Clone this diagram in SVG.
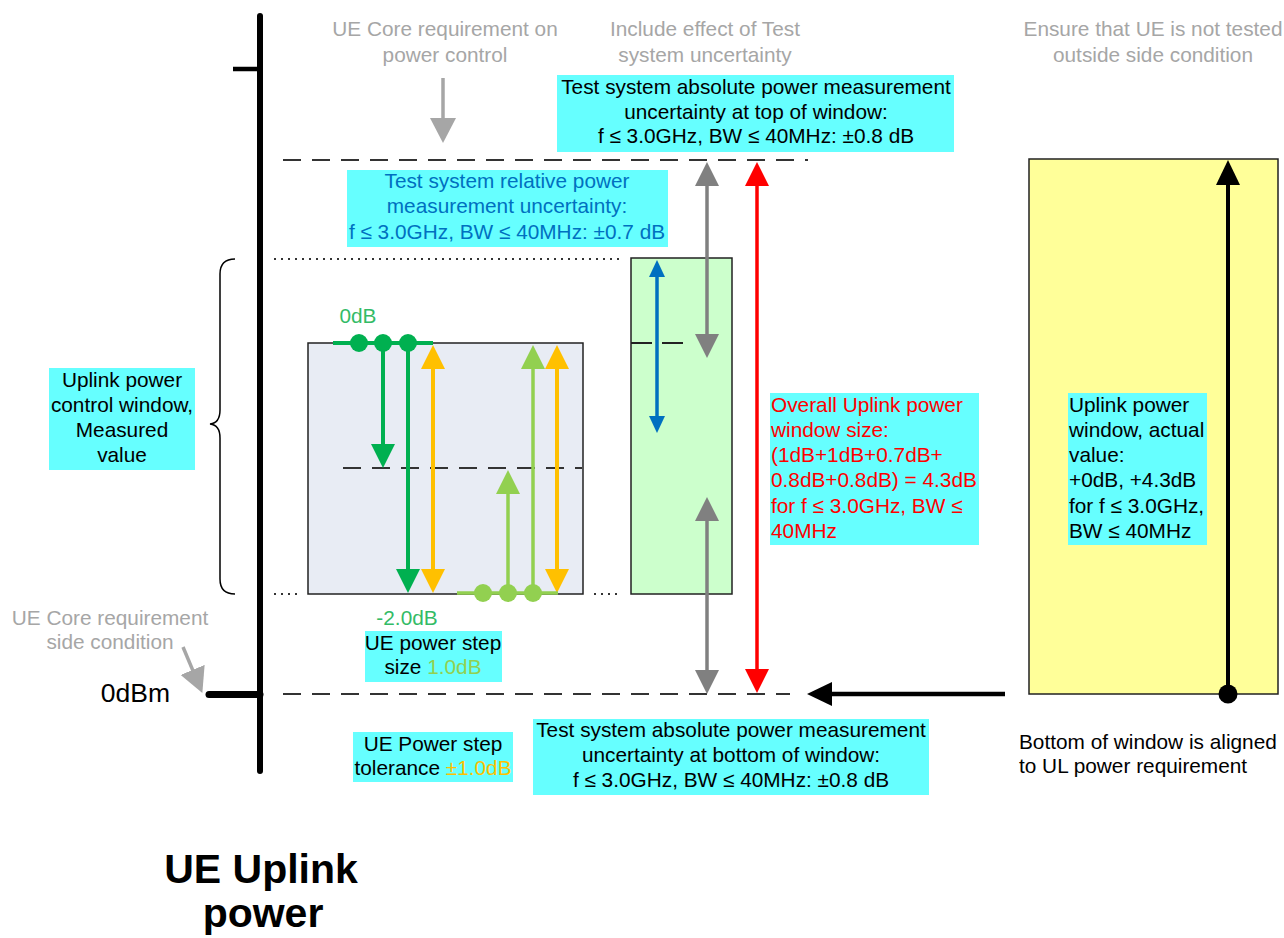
<svg xmlns="http://www.w3.org/2000/svg" width="1284" height="938" viewBox="0 0 1284 938">
<style>
.t{font-family:"Liberation Sans",Arial,sans-serif;font-size:20.8px;fill:#000}
.c{text-anchor:middle}
.g{fill:#A6A6A6}
.cy{fill:#66FFFF}
.dash{stroke:#333;stroke-width:2;stroke-dasharray:18 11;fill:none}
.dot{stroke:#333;stroke-width:2;stroke-dasharray:2 5;fill:none}
.box{stroke:#222;stroke-width:1.5}
</style>
<defs>
<marker id="mGray" markerUnits="userSpaceOnUse" markerWidth="24" markerHeight="24" refX="4" refY="12" orient="auto-start-reverse"><path d="M0,0 L24,12 L0,24 z" fill="#808080"/></marker>
<marker id="mLtGray" markerUnits="userSpaceOnUse" markerWidth="25" markerHeight="26" refX="4" refY="13" orient="auto-start-reverse"><path d="M0,0 L25,13 L0,26 z" fill="#A6A6A6"/></marker>
<marker id="mRed" markerUnits="userSpaceOnUse" markerWidth="24" markerHeight="24" refX="4" refY="12" orient="auto-start-reverse"><path d="M0,0 L24,12 L0,24 z" fill="#FF0000"/></marker>
<marker id="mDG" markerUnits="userSpaceOnUse" markerWidth="24" markerHeight="24" refX="4" refY="12" orient="auto-start-reverse"><path d="M0,0 L24,12 L0,24 z" fill="#00B050"/></marker>
<marker id="mLG" markerUnits="userSpaceOnUse" markerWidth="24" markerHeight="24" refX="4" refY="12" orient="auto-start-reverse"><path d="M0,0 L24,12 L0,24 z" fill="#92D050"/></marker>
<marker id="mY" markerUnits="userSpaceOnUse" markerWidth="24" markerHeight="24" refX="4" refY="12" orient="auto-start-reverse"><path d="M0,0 L24,12 L0,24 z" fill="#FFC000"/></marker>
<marker id="mBlue" markerUnits="userSpaceOnUse" markerWidth="17" markerHeight="16" refX="3" refY="8" orient="auto-start-reverse"><path d="M0,0 L17,8 L0,16 z" fill="#0070C0"/></marker>
<marker id="mBlk" markerUnits="userSpaceOnUse" markerWidth="25" markerHeight="24" refX="4" refY="12" orient="auto-start-reverse"><path d="M0,0 L25,12 L0,24 z" fill="#000"/></marker>
</defs>
<rect width="1284" height="938" fill="#fff"/>

<g id="axis">
<line x1="260" y1="16" x2="260" y2="771" stroke="#000" stroke-width="6" stroke-linecap="round"/>
<line x1="233" y1="69" x2="260" y2="69" stroke="#000" stroke-width="4.5"/>
<line x1="209" y1="694.5" x2="260" y2="694.5" stroke="#000" stroke-width="7" stroke-linecap="round"/>
<text class="t" x="170" y="702" text-anchor="end" style="font-size:26.5px">0dBm</text>
</g>

<g id="reference-lines">
<line class="dash" x1="283" y1="160" x2="808" y2="160"/>
<line class="dash" x1="283" y1="694" x2="790" y2="694"/>
<line class="dot" x1="274" y1="259" x2="620" y2="259"/>
<line class="dot" x1="274" y1="594" x2="300" y2="594"/>
<line class="dot" x1="594" y1="594" x2="620" y2="594"/>
</g>

<g id="step-window">
<rect class="box" x="308" y="343" width="275" height="251" fill="#E8ECF4"/>
<line class="dash" x1="343" y1="468" x2="582" y2="468"/>
</g>

<g id="relative-window">
<rect class="box" x="631" y="258" width="101" height="336" fill="#CCFFCC"/>
<line x1="631" y1="343" x2="683" y2="343" stroke="#222" stroke-width="2" stroke-dasharray="21 10"/>
</g>

<g id="actual-window">
<rect class="box" x="1029" y="159" width="249" height="535" fill="#FFFF99"/>
</g>

<g id="brace">
<path d="M235,259 Q220,259 220,274 L220,410 Q220,423 210,424 Q220,425 220,438 L220,579 Q220,594 235,594" fill="none" stroke="#000" stroke-width="1.5"/>
</g>

<g id="connectors">
<line x1="443" y1="78" x2="443" y2="122" stroke="#A6A6A6" stroke-width="3.5" marker-end="url(#mLtGray)"/>
<line x1="183" y1="647" x2="194.2" y2="673.6" stroke="#A6A6A6" stroke-width="3.5" marker-end="url(#mLtGray)"/>
<line x1="333" y1="343" x2="433" y2="343" stroke="#00B050" stroke-width="4"/>
<line x1="383" y1="343" x2="383" y2="448" stroke="#00B050" stroke-width="4" marker-end="url(#mDG)"/>
<line x1="408" y1="343" x2="408" y2="573" stroke="#00B050" stroke-width="4" marker-end="url(#mDG)"/>
<line x1="433" y1="365" x2="433" y2="573" stroke="#FFC000" stroke-width="4" marker-start="url(#mY)" marker-end="url(#mY)"/>
<line x1="557" y1="365" x2="557" y2="573" stroke="#FFC000" stroke-width="4" marker-start="url(#mY)" marker-end="url(#mY)"/>
<line x1="457" y1="593" x2="558" y2="593" stroke="#92D050" stroke-width="3.5"/>
<line x1="508" y1="593" x2="508" y2="490" stroke="#92D050" stroke-width="3.5" marker-end="url(#mLG)"/>
<line x1="533" y1="593" x2="533" y2="365" stroke="#92D050" stroke-width="3.5" marker-end="url(#mLG)"/>
<line x1="657" y1="274" x2="657" y2="419" stroke="#0070C0" stroke-width="3.5" marker-start="url(#mBlue)" marker-end="url(#mBlue)"/>
<line x1="707" y1="182" x2="707" y2="338" stroke="#808080" stroke-width="3.5" marker-start="url(#mGray)" marker-end="url(#mGray)"/>
<line x1="707" y1="517" x2="707" y2="674" stroke="#808080" stroke-width="3.5" marker-start="url(#mGray)" marker-end="url(#mGray)"/>
<line x1="757" y1="182" x2="757" y2="673" stroke="#FF0000" stroke-width="3.5" marker-start="url(#mRed)" marker-end="url(#mRed)"/>
<line x1="1005" y1="694" x2="828" y2="694" stroke="#000" stroke-width="4.5" marker-end="url(#mBlk)"/>
<line x1="1228" y1="694" x2="1228" y2="181" stroke="#000" stroke-width="4" marker-end="url(#mBlk)"/>
<g fill="#00B050"><circle cx="359" cy="343" r="9"/><circle cx="383" cy="343" r="9"/><circle cx="408" cy="343" r="9"/></g>
<g fill="#92D050"><circle cx="483" cy="593" r="9"/><circle cx="508" cy="593" r="9"/><circle cx="533" cy="593" r="9"/></g>
<circle cx="1228" cy="694" r="9.5" fill="#000"/>
</g>

<g id="label-core-power-control">
<text class="t c g" x="445" y="36">UE Core requirement on</text>
<text class="t c g" x="445" y="62">power control</text>
</g>
<g id="label-include-effect">
<text class="t c g" x="705" y="36">Include effect of Test</text>
<text class="t c g" x="705" y="62">system uncertainty</text>
</g>
<g id="label-ensure">
<text class="t c g" x="1153" y="36">Ensure that UE is not tested</text>
<text class="t c g" x="1153" y="62">outside side condition</text>
</g>
<g id="label-side-condition">
<text class="t c g" x="110" y="625">UE Core requirement</text>
<text class="t c g" x="110" y="649">side condition</text>
</g>

<g id="box-abs-top">
<rect class="cy" x="557" y="75" width="397" height="77"/>
<text class="t c" x="756" y="94">Test system absolute power measurement</text>
<text class="t c" x="756" y="118.5">uncertainty at top of window:</text>
<text class="t c" x="756" y="143">f ≤ 3.0GHz, BW ≤ 40MHz: ±0.8 dB</text>
</g>

<g id="box-relative">
<rect class="cy" x="347" y="170" width="321" height="77"/>
<text class="t c" x="507" y="188" style="fill:#0070C0">Test system relative power</text>
<text class="t c" x="507" y="213" style="fill:#0070C0">measurement uncertainty:</text>
<text class="t c" x="507" y="239" style="fill:#0070C0">f ≤ 3.0GHz, BW ≤ 40MHz: ±0.7 dB</text>
</g>

<g id="box-measured">
<rect class="cy" x="49" y="368" width="146" height="102"/>
<text class="t c" x="122" y="387">Uplink power</text>
<text class="t c" x="122" y="412">control window,</text>
<text class="t c" x="122" y="437">Measured</text>
<text class="t c" x="122" y="462">value</text>
</g>

<g id="label-0dB">
<text class="t c" x="358" y="323" style="fill:#33BB66">0dB</text>
</g>
<g id="label-minus2dB">
<text class="t c" x="407" y="625" style="fill:#33BB66">-2.0dB</text>
</g>

<g id="box-step-size">
<rect class="cy" x="365" y="631" width="137" height="51"/>
<text class="t c" x="433" y="650">UE power step</text>
<text class="t c" x="433" y="674">size <tspan style="fill:#92D050">1.0dB</tspan></text>
</g>

<g id="box-step-tolerance">
<rect class="cy" x="353" y="732" width="160" height="50"/>
<text class="t c" x="433" y="751">UE Power step</text>
<text class="t c" x="433" y="775">tolerance <tspan style="fill:#FFC000">±1.0dB</tspan></text>
</g>

<g id="box-abs-bottom">
<rect class="cy" x="533" y="719" width="396" height="76"/>
<text class="t c" x="731" y="737">Test system absolute power measurement</text>
<text class="t c" x="731" y="762">uncertainty at bottom of window:</text>
<text class="t c" x="731" y="787">f ≤ 3.0GHz, BW ≤ 40MHz: ±0.8 dB</text>
</g>

<g id="box-overall">
<rect class="cy" x="770" y="393" width="209" height="152"/>
<text class="t" x="771" y="412" style="fill:#FF0000">Overall Uplink power</text>
<text class="t" x="771" y="437" style="fill:#FF0000">window size:</text>
<text class="t" x="771" y="462" style="fill:#FF0000">(1dB+1dB+0.7dB+</text>
<text class="t" x="771" y="487" style="fill:#FF0000">0.8dB+0.8dB) = 4.3dB</text>
<text class="t" x="771" y="513" style="fill:#FF0000">for f ≤ 3.0GHz, BW ≤</text>
<text class="t" x="771" y="538" style="fill:#FF0000">40MHz</text>
</g>

<g id="box-actual">
<rect class="cy" x="1068" y="393" width="139" height="152"/>
<text class="t" x="1069" y="412">Uplink power</text>
<text class="t" x="1069" y="437">window, actual</text>
<text class="t" x="1069" y="462">value:</text>
<text class="t" x="1069" y="487">+0dB, +4.3dB</text>
<text class="t" x="1069" y="513">for f ≤ 3.0GHz,</text>
<text class="t" x="1069" y="538">BW ≤ 40MHz</text>
</g>

<g id="label-bottom-aligned">
<text class="t" x="1019" y="749">Bottom of window is aligned</text>
<text class="t" x="1019" y="773">to UL power requirement</text>
</g>

<g id="title">
<text class="t c" x="261" y="883" style="font-size:41px;font-weight:bold">UE Uplink</text>
<text class="t c" x="263" y="927" style="font-size:41px;font-weight:bold">power</text>
</g>
</svg>
